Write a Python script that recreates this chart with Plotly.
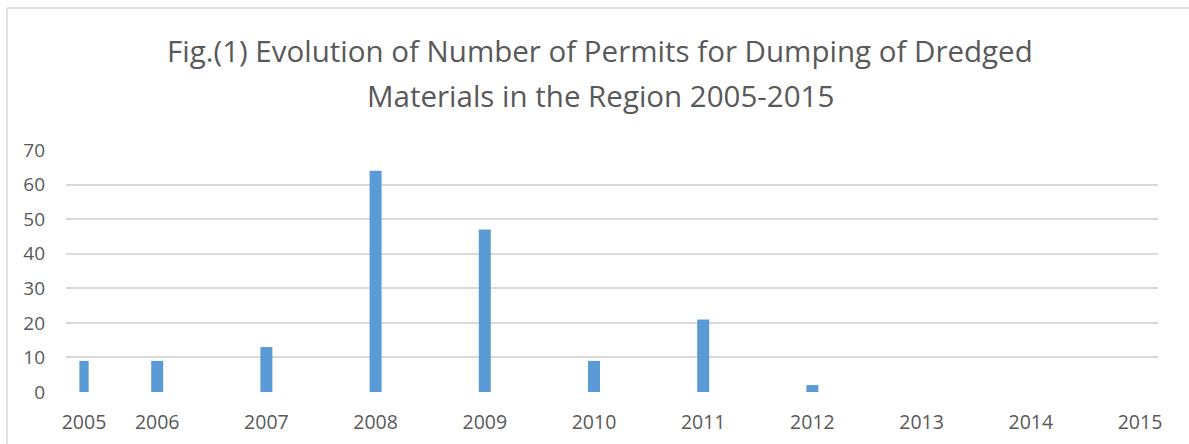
import plotly.graph_objects as go

# ---- data ----
year_labels = ["2005", "2006", "2007", "2008", "2009", "2010",
               "2011", "2012", "2013", "2014", "2015"]
year_positions = [2005.33, 2006, 2007, 2008, 2009, 2010,
                  2011, 2012, 2013, 2014, 2015]
permits = [9, 9, 13, 64, 47, 9, 21, 2, 0, 0, 0]
bar_widths = [0.085, 0.11, 0.11, 0.11, 0.11, 0.11, 0.11, 0.11, 0.11, 0.11, 0.11]

title_line1 = "Fig.(1) Evolution of Number of Permits for Dumping of Dredged"
title_line2 = "Materials in the Region 2005-2015"

W, H = 1189, 444
ML, MR, MT, MB = 66, 31, 150, 52
PW, PH = W - ML - MR, H - MT - MB

def px_x(p):
    return (p - ML) / PW

def px_y(p):
    return (H - MB - p) / PH

TEXT = "#595959"
GRID = "#D9D9D9"
FONT = "Open Sans, Lato, sans-serif"

fig = go.Figure()
fig.add_trace(go.Bar(
    x=year_positions, y=permits, width=bar_widths,
    marker=dict(color="#5B9BD5", line=dict(width=0)),
    hoverinfo="x+y",
))

fig.update_layout(
    width=W, height=H,
    margin=dict(l=ML, r=MR, t=MT, b=MB, pad=0, autoexpand=False),
    paper_bgcolor="white", plot_bgcolor="white",
    showlegend=False,
    font=dict(family=FONT, color=TEXT, size=18),
    xaxis=dict(
        range=[2005.165, 2015.165],
        tickvals=year_positions, ticktext=year_labels,
        showgrid=False, zeroline=False, showline=False,
        ticks="", ticklabelstandoff=16, automargin=False,
        tickfont=dict(family=FONT, color=TEXT, size=19.5),
        fixedrange=True,
    ),
    yaxis=dict(
        range=[0, 70], tickvals=[0, 10, 20, 30, 40, 50, 60, 70],
        showgrid=True, gridcolor=GRID, gridwidth=1.7,
        zeroline=False, showline=False, ticks="",
        ticklabelstandoff=20, automargin=False,
        tickfont=dict(family=FONT, color=TEXT, size=19),
        fixedrange=True,
    ),
    annotations=[
        dict(text=title_line1, xref="paper", yref="paper",
             x=px_x(600), y=px_y(51), xanchor="center", yanchor="middle",
             showarrow=False, font=dict(family=FONT, size=29.5, color=TEXT)),
        dict(text=title_line2, xref="paper", yref="paper",
             x=px_x(600), y=px_y(95), xanchor="center", yanchor="middle",
             showarrow=False, font=dict(family=FONT, size=29.5, color=TEXT)),
    ],
    shapes=[
        dict(type="line", xref="paper", yref="paper",
             x0=px_x(7), x1=px_x(W + 5), y0=px_y(8), y1=px_y(8),
             line=dict(color=GRID, width=1.5)),
        dict(type="line", xref="paper", yref="paper",
             x0=px_x(7), x1=px_x(7), y0=px_y(8), y1=px_y(H + 5),
             line=dict(color=GRID, width=1.5)),
    ],
)

fig.write_html(
    "out.html",
    config={"displayModeBar": False},
    post_script="document.body.style.margin='0';document.body.style.overflow='hidden';",
)
